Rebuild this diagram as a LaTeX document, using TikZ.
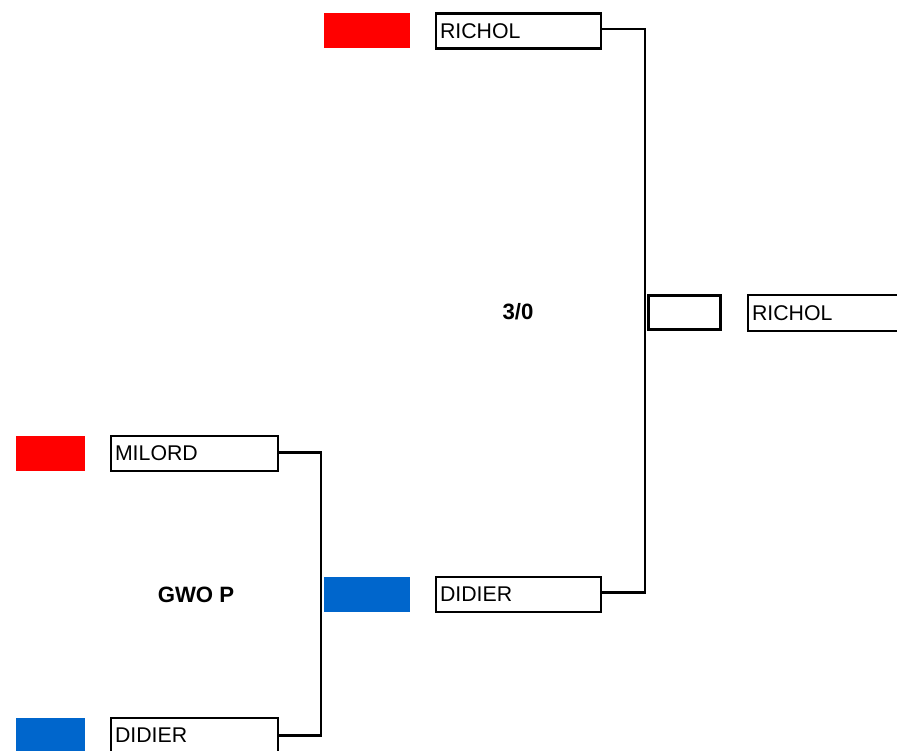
\documentclass[tikz,border=0pt]{standalone}
\usepackage{fontspec}
\setmainfont{Liberation Sans}
\definecolor{tred}{HTML}{FF0000}
\definecolor{tblue}{HTML}{0066CC}
\begin{document}
\begin{tikzpicture}[x=1pt,y=-1pt,
  player/.style={draw=black, line width=2.4pt, fill=white, inner xsep=4pt, inner ysep=0pt,
     minimum height=35pt, align=left, anchor=center,
     font=\fontsize{21.3}{22}\selectfont},
  flag/.style={draw=none, inner sep=0pt, minimum width=#1, minimum height=35pt},
  result/.style={draw=black, line width=3.6pt, inner sep=0pt, minimum width=72pt, minimum height=34pt},
  score/.style={font=\fontsize{22.2}{23}\selectfont\bfseries},
  link/.style={draw=black, line width=2.4pt}]
\useasboundingbox (0,0) rectangle (897,750);
% flags
\node[flag=86pt, fill=tred]  (fr1) at (367,30.5) {};
\node[flag=69pt, fill=tred]  (fm1) at (50.5,453.5) {};
\node[flag=86pt, fill=tblue] (fd2) at (367,594.5) {};
\node[flag=69pt, fill=tblue] (fd1) at (50.5,735.5) {};
% players
\node[player, text width=157pt] (r1) at (518.5,31) {RICHOL};
\node[player, text width=159pt] (m1) at (194.5,453.5) {MILORD};
\node[player, text width=157pt] (d2) at (518.5,594.5) {DIDIER};
\node[player, text width=159pt] (d1) at (194.5,735.5) {DIDIER};
\node[player, text width=162pt, minimum height=36pt] (rw) at (833,313) {RICHOL};
\node[result] (res) at (684.5,312.5) {};
% scores
\node[score] (s1) at (518,312) {3/0};
\node[score] (s2) at (196,595) {GWO P};
% connectors
\coordinate (c1) at (645,312);
\coordinate (c2) at (321,594);
\draw[link] ([yshift=2pt]r1.east) -| (c1) |- ([yshift=2pt]d2.east);
\draw[link] ([yshift=1pt]m1.east) -| (c2) |- (d1.east);
\end{tikzpicture}
\end{document}
